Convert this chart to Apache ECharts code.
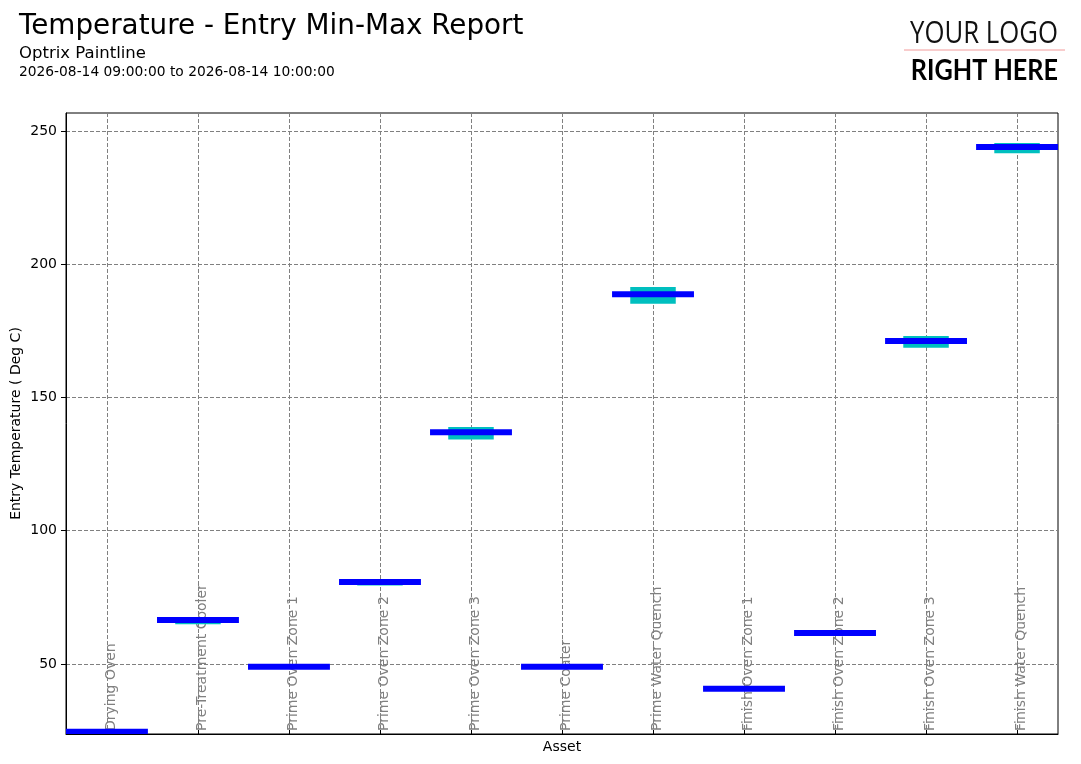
<!DOCTYPE html>
<html>
<head>
<meta charset="utf-8">
<script src="https://cdn.jsdelivr.net/npm/echarts@6/dist/echarts.min.js"></script>
<style>
html,body{margin:0;padding:0;background:#fff;}
#chart{width:1081px;height:764px;}
</style>
</head>
<body>
<div id="chart"></div>
<script>
var categories = ['Drying Oven','Pre-Treatment Cooler','Prime Oven Zone 1','Prime Oven Zone 2','Prime Oven Zone 3','Prime Coater','Prime Water Quench','Finish Oven Zone 1','Finish Oven Zone 2','Finish Oven Zone 3','Finish Water Quench'];
var entryValues = [24.5, 66.5, 48.9, 80.8, 137.0, 48.9, 188.8, 40.7, 61.6, 171.2, 244.0];
var minValues   = [24.2, 64.9, 48.6, 79.4, 134.2, 48.6, 185.2, 40.4, 61.3, 168.7, 241.7];
var maxValues   = [24.8, 66.9, 49.2, 81.0, 138.9, 49.2, 191.5, 41.0, 61.9, 173.1, 245.5];
var yTicks = [50, 100, 150, 200, 250];

var catIdx = categories.map(function(c, i){ return i; });
var rangeData = categories.map(function(c, i){ return [i, minValues[i], maxValues[i]]; });
var entryData = categories.map(function(c, i){ return [i, entryValues[i]]; });

var FONT = 'DejaVu Sans';
var chart = echarts.init(document.getElementById('chart'), null, {renderer:'canvas'});

function clip(shape, params){
  return echarts.graphic.clipRectByRect(shape, {
    x: params.coordSys.x, y: params.coordSys.y,
    width: params.coordSys.width, height: params.coordSys.height
  });
}

chart.setOption({
  animation: false,
  backgroundColor: '#fff',
  title: [
    {text:'Temperature - Entry Min-Max Report', left:19, top:13, padding:0,
     textStyle:{fontFamily:FONT, fontSize:27.8, fontWeight:'normal', color:'#000'}},
    {text:'Optrix Paintline', left:19, top:45, padding:0,
     textStyle:{fontFamily:FONT, fontSize:16.5, fontWeight:'normal', color:'#000'}},
    {text:'2026-08-14 09:00:00 to 2026-08-14 10:00:00', left:19, top:65, padding:0,
     textStyle:{fontFamily:FONT, fontSize:13.8, fontWeight:'normal', color:'#000'}}
  ],
  graphic: [
    {type:'text', x:1058, y:19, scaleX:0.83,
     style:{text:'YOUR LOGO', x:0, y:0, align:'right', verticalAlign:'top', fontFamily:'Open Sans', fontSize:31, fontWeight:'normal', fill:'#111'}},
    {type:'line', shape:{x1:904, y1:50, x2:1065, y2:50}, style:{stroke:'#f29a9a', lineWidth:1}},
    {type:'text', x:1058, y:57, scaleX:0.9,
     style:{text:'RIGHT HERE', x:0, y:0, align:'right', verticalAlign:'top', fontFamily:'Lato', fontSize:28, fontWeight:'bold', fill:'#000'}}
  ],
  grid: {left:66, right:23, top:113, bottom:30, show:true, borderColor:'#000', borderWidth:1, backgroundColor:'transparent', outerBoundsMode:'none', containLabel:false},
  xAxis: {
    type:'value', min:-0.45, max:10.45,
    name:'Asset', nameLocation:'middle', nameGap:6, nameMoveOverlap:false,
    nameTextStyle:{fontFamily:FONT, fontSize:14, color:'#000', verticalAlign:'top'},
    axisLine:{show:true, onZero:false, lineStyle:{color:'#000', width:1}},
    axisTick:{show:true, inside:true, length:4, customValues:catIdx, lineStyle:{color:'#000'}},
    axisLabel:{show:true, inside:true, rotate:90, margin:3, customValues:catIdx,
      formatter:function(v){ return categories[Math.round(v)] || ''; },
      fontFamily:FONT, fontSize:14, color:'#808080', verticalAlign:'top', lineHeight:8},
    splitLine:{show:true, lineStyle:{color:'#808080', width:1, type:[4,2]}}
  },
  yAxis: {
    type:'value', min:23.7, max:256.8,
    name:'Entry Temperature ( Deg C)', nameLocation:'middle', nameGap:43, nameMoveOverlap:false,
    nameTextStyle:{fontFamily:FONT, fontSize:14, color:'#000'},
    axisLine:{show:true, onZero:false, lineStyle:{color:'#000', width:1}},
    axisTick:{show:true, length:5, customValues:yTicks, lineStyle:{color:'#000'}},
    axisLabel:{show:true, margin:9, customValues:yTicks, fontFamily:FONT, fontSize:14, color:'#000'},
    splitLine:{show:true, lineStyle:{color:'#808080', width:1, type:[4,2]}}
  },
  series: [
    {
      type:'custom', name:'Range', data:rangeData,
      renderItem:function(params, api){
        var x = api.value(0), lo = api.value(1), hi = api.value(2);
        var p1 = api.coord([x - 0.25, hi]);
        var p2 = api.coord([x + 0.25, lo]);
        var shape = clip({x:p1[0], y:p1[1], width:p2[0]-p1[0], height:p2[1]-p1[1]}, params);
        return shape && {type:'rect', shape:shape, style:{fill:'#00bfbf'}};
      }
    },
    {
      type:'custom', name:'Entry', data:entryData,
      renderItem:function(params, api){
        var x = api.value(0), v = api.value(1);
        var c = api.coord([x, v]);
        var w = api.size([0.9, 0])[0];
        var shape = clip({x:c[0]-w/2, y:c[1]-3, width:w, height:6}, params);
        return shape && {type:'rect', shape:shape, style:{fill:'#0000ff'}};
      }
    }
  ]
});
</script>
</body>
</html>
